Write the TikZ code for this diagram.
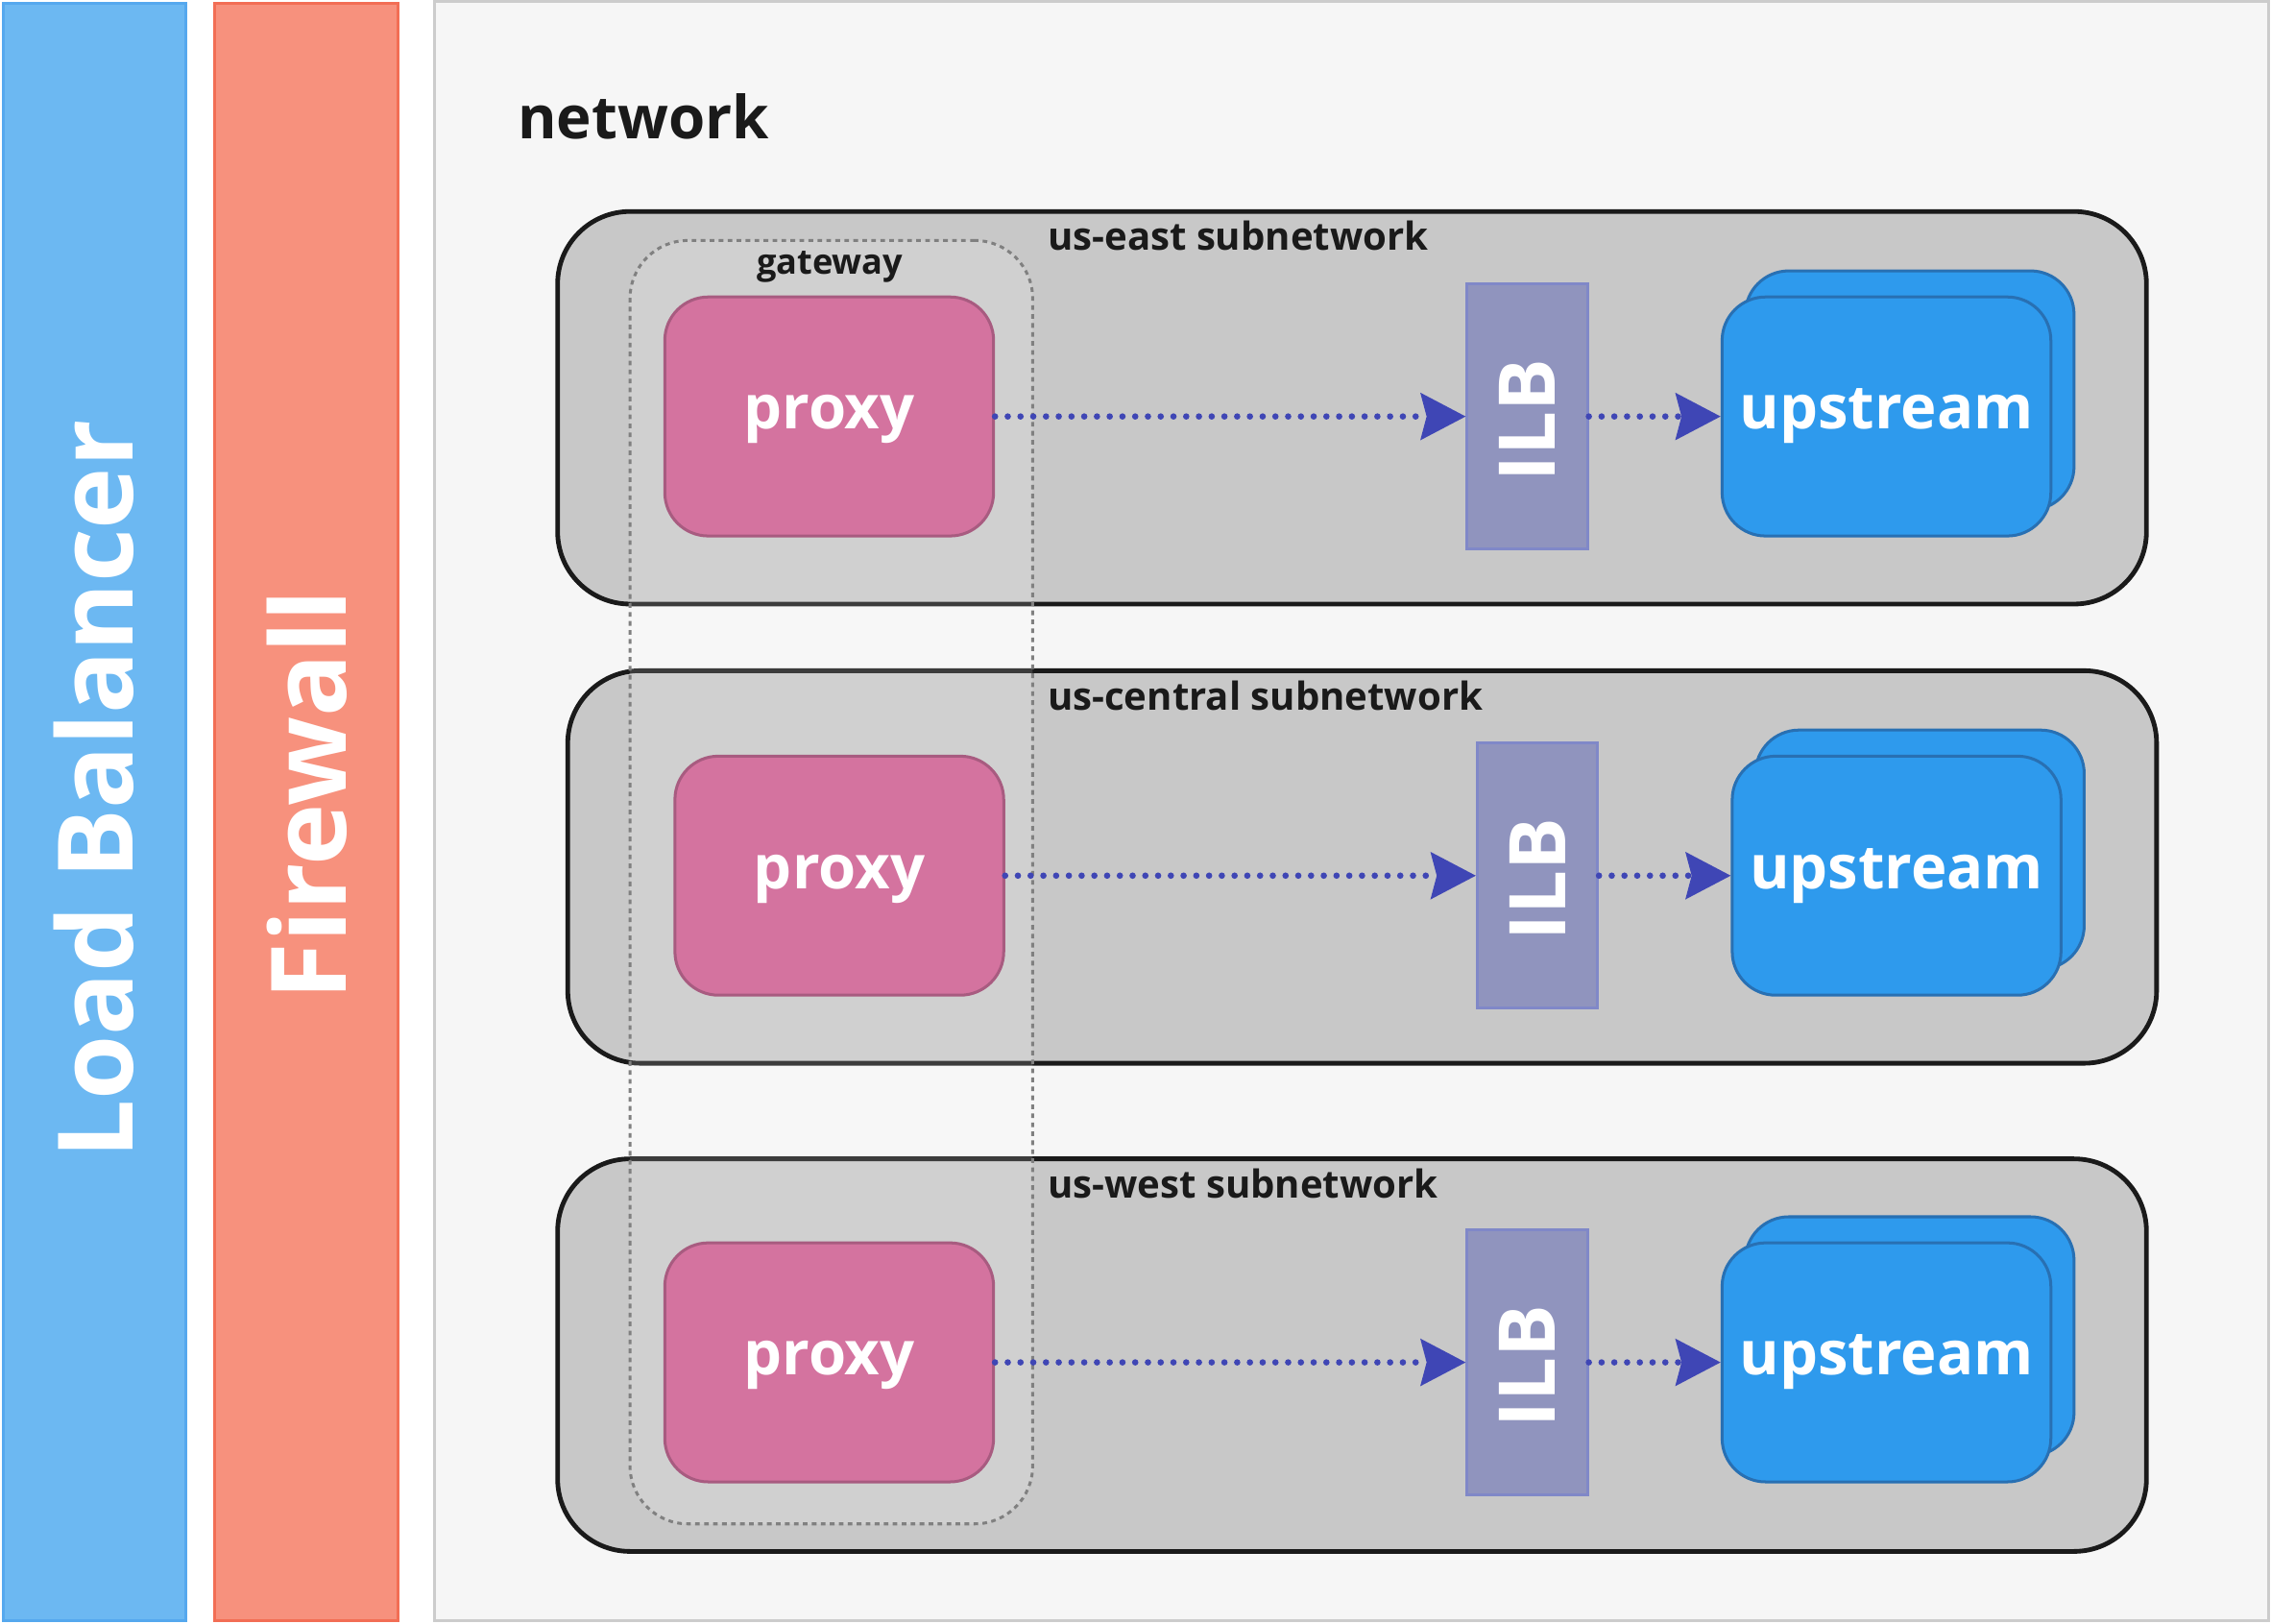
\documentclass[tikz,border=0pt]{standalone}
\usepackage{fontspec}
\setmainfont{Open Sans}
\usetikzlibrary{arrows.meta}
\definecolor{lbfill}{HTML}{6CB8F2}
\definecolor{lbdraw}{HTML}{55A8EE}
\definecolor{fwfill}{HTML}{F7917D}
\definecolor{fwdraw}{HTML}{F26E55}
\definecolor{netfill}{HTML}{F6F6F6}
\definecolor{netdraw}{HTML}{CCCCCC}
\definecolor{subfill}{HTML}{C8C8C8}
\definecolor{subdraw}{HTML}{1A1A1A}
\definecolor{pxfill}{HTML}{D4739F}
\definecolor{pxdraw}{HTML}{A85B80}
\definecolor{ilbfill}{HTML}{9094BE}
\definecolor{ilbdraw}{HTML}{8088C8}
\definecolor{upfill}{HTML}{2E9AED}
\definecolor{updraw}{HTML}{2870B3}
\definecolor{flowcol}{HTML}{3F46B5}
\definecolor{gwdraw}{HTML}{808080}
\definecolor{txt}{HTML}{1A1A1A}
\tikzset{
  bar/.style={draw, line width=1pt, minimum width=63pt, minimum height=558.5pt, inner sep=0pt,
    text=white, font=\bfseries\fontsize{36}{40}\selectfont},
  subnet/.style={draw=subdraw, fill=subfill, line width=1.6pt, rounded corners=25pt,
    minimum width=548.5pt, minimum height=135.5pt, inner sep=0pt},
  sublabel/.style={anchor=west, inner sep=0pt, text=txt, font=\bfseries\fontsize{13.3}{16}\selectfont},
  proxybox/.style={draw=pxdraw, fill=pxfill, line width=1pt, rounded corners=15pt,
    minimum width=113.5pt, minimum height=82.5pt, inner sep=0pt, text height=8.8pt, text depth=0pt,
    text=white, font=\bfseries\fontsize{21}{24}\selectfont},
  ilbbox/.style={draw=ilbdraw, fill=ilbfill, line width=1pt,
    minimum width=41.5pt, minimum height=91.5pt, inner sep=0pt},
  ilbtext/.style={rotate=90, inner sep=0pt, text=white, font=\bfseries\fontsize{27}{30}\selectfont},
  upbox/.style={draw=updraw, fill=upfill, line width=1pt, rounded corners=15pt,
    minimum width=113.5pt, minimum height=82.5pt, inner sep=0pt, text height=8.8pt, text depth=0pt,
    text=white, font=\bfseries\fontsize{21}{24}\selectfont},
  flow/.style={draw=flowcol, line width=2.2pt, line cap=round, dash pattern=on 0pt off 4.4pt,
    -{Stealth[length=15.5pt, width=16pt, inset=2pt, line cap=butt, line join=miter]}},
}
\begin{document}
\begin{tikzpicture}[x=0.5pt, y=-0.5pt]
\useasboundingbox (0,0) rectangle (1568,1121);
\fill[white] (0,0) rectangle (1568,1121);
% side bars
\node[bar, draw=lbdraw, fill=lbfill] (lb) at (65,560.5) {};
\node[rotate=90, text=white, font=\bfseries\fontsize{36}{40}\selectfont, inner sep=0pt] (lbt) at (65,545) {Load Balancer};
\node[bar, draw=fwdraw, fill=fwfill, minimum width=63.5pt] (fw) at (211.5,560.5) {};
\node[rotate=90, text=white, font=\bfseries\fontsize{36}{40}\selectfont, inner sep=0pt] (fwt) at (212,549) {Firewall};
% network
\node[draw=netdraw, fill=netfill, line width=1pt, minimum width=633pt, minimum height=559pt, inner sep=0pt] (net) at (933,560) {};
\node[anchor=base west, inner sep=0pt, text=txt, font=\bfseries\fontsize{20.5}{24}\selectfont] (netl) at (357,96) {network};
% subnets
\node[subnet] (s1) at (933.5,281.5) {};
\node[subnet] (s2) at (940.5,598.5) {};
\node[subnet] (s3) at (933.5,935.5) {};
\node[sublabel] (s1l) at (723,163) {us-east subnetwork};
\node[sublabel] (s2l) at (723,480) {us-central subnetwork};
\node[sublabel] (s3l) at (723,817) {us-west subnetwork};
% gateway
\node[draw=gwdraw, fill=white, fill opacity=0.15, line width=1pt, dash pattern=on 1.6pt off 1.5pt,
  rounded corners=20pt, minimum width=139pt, minimum height=443pt, inner sep=0pt] (gw) at (574,609) {};
\node[anchor=base, inner sep=0pt, text=txt, font=\bfseries\fontsize{12}{14}\selectfont] (gwl) at (573,189) {gateway};
% proxies
\node[proxybox] (p1) at (572.5,287.5) {proxy};
\node[proxybox] (p2) at (579.5,604.5) {proxy};
\node[proxybox] (p3) at (572.5,940.5) {proxy};
% ILBs
\node[ilbbox] (i1) at (1054.5,287.5) {};
\node[ilbtext] at ([yshift=-1.25pt]i1.center) {ILB};
\node[ilbbox] (i2) at (1061.5,604.5) {};
\node[ilbtext] at ([yshift=-1.25pt]i2.center) {ILB};
\node[ilbbox] (i3) at (1054.5,940.5) {};
\node[ilbtext] at ([yshift=-1.25pt]i3.center) {ILB};
% upstreams
\node[upbox] (u1b) at (1318.5,269.5) {};
\node[upbox] (u1) at (1302.5,287.5) {upstream};
\node[upbox] (u2b) at (1325.5,586.5) {};
\node[upbox] (u2) at (1309.5,604.5) {upstream};
\node[upbox] (u3b) at (1318.5,922.5) {};
\node[upbox] (u3) at (1302.5,940.5) {upstream};
% flows
\draw[flow] (p1.east) -- (i1.west);
\draw[flow] (i1.east) -- (u1.west);
\draw[flow] (p2.east) -- (i2.west);
\draw[flow] (i2.east) -- (u2.west);
\draw[flow] (p3.east) -- (i3.west);
\draw[flow] (i3.east) -- (u3.west);
\end{tikzpicture}
\end{document}
